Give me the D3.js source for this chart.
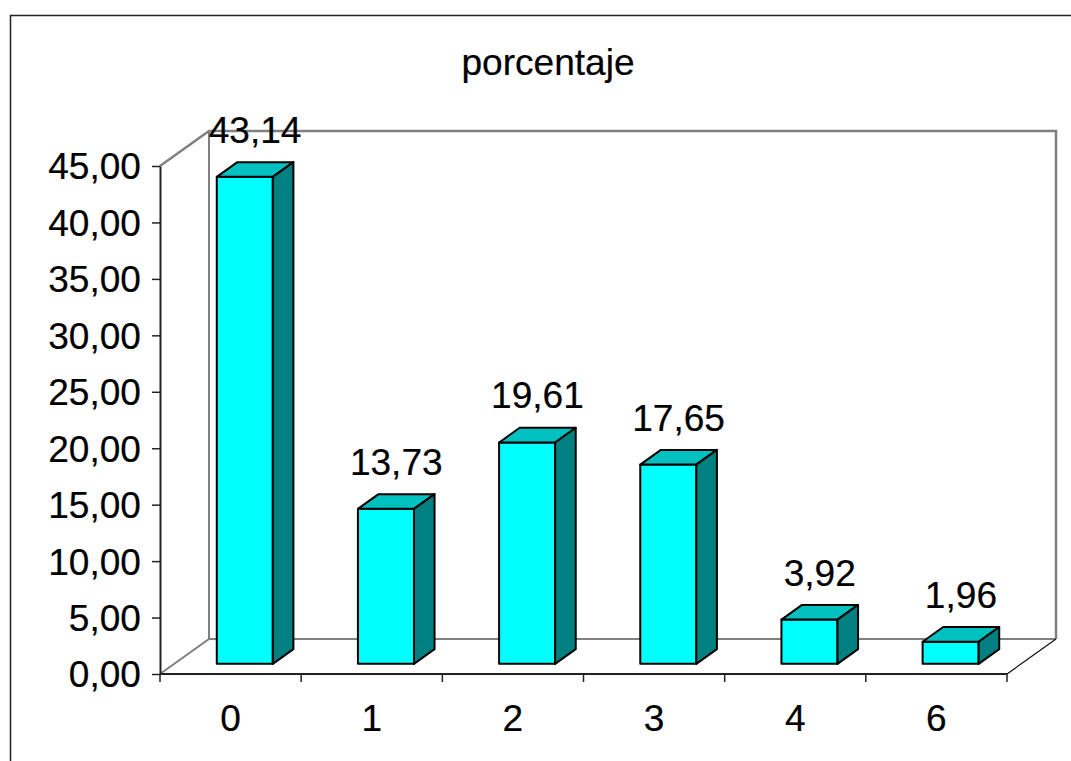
<!DOCTYPE html>
<html>
<head>
<meta charset="utf-8">
<script src="https://cdn.jsdelivr.net/npm/d3@7"></script>
<style>
  html, body { margin: 0; padding: 0; background: #fff; }
  svg { display: block; }
  text { font-family: "Liberation Sans", Arial, sans-serif; fill: #000; stroke: #000; stroke-width: 0.2px; }
</style>
</head>
<body>
<svg id="chart" width="1071" height="761"></svg>
<script>
// Data
const categories = ["0", "1", "2", "3", "4", "6"];
const values = [43.14, 13.73, 19.61, 17.65, 3.92, 1.96];
const yTicks = [0, 5, 10, 15, 20, 25, 30, 35, 40, 45];
const title = "porcentaje";

// Layout
const W = 1071, H = 761;
const plot = { left: 160, right: 1007, bottom: 674, top: 166 };
const depth = { dx: 49, dy: -35 };          // floor / wall depth offset
const barFront = 0.29, barBack = 0.71;       // bar position within the depth
const fontSize = 36, stretch = 1.03;

const locale = d3.formatLocale({ decimal: ",", thousands: ".", grouping: [3], currency: ["", "€"] });
const fmt = locale.format(".2f");

const svg = d3.select("#chart");

// Outer frame
svg.append("rect")
  .attr("x", 10.5).attr("y", 15.5)
  .attr("width", 1200).attr("height", 900)
  .attr("fill", "none").attr("stroke", "#222").attr("stroke-width", 1.5);

// Scales
const x = d3.scaleBand()
  .domain(categories)
  .range([plot.left, plot.right])
  .paddingInner(0.603)
  .paddingOuter(0.603 / 2);
const y = d3.scaleLinear().domain([0, 45]).range([plot.bottom, plot.top]);

// Title
svg.append("text")
  .attr("transform", `translate(548,75) scale(${stretch},1)`)
  .attr("text-anchor", "middle")
  .attr("font-size", fontSize)
  .text(title);

// Back wall and floor outline
const gray = "#808080";
const bx0 = plot.left + depth.dx, bx1 = plot.right + depth.dx;
const byTop = y(45) + depth.dy, byBot = plot.bottom + depth.dy;
const walls = svg.append("g").attr("fill", "none").attr("stroke", gray).attr("stroke-width", 2);
walls.append("polyline")
  .attr("points", [[plot.left, y(45)], [bx0, byTop], [bx1, byTop], [bx1, byBot]].join(" "))
  .attr("stroke-width", 2.5);
walls.append("line").attr("x1", bx0).attr("y1", byTop).attr("x2", bx0).attr("y2", byBot);
walls.append("polyline")
  .attr("points", [[plot.left, plot.bottom], [bx0, byBot], [bx1, byBot]].join(" "));
svg.append("line")
  .attr("x1", plot.right).attr("y1", plot.bottom).attr("x2", bx1).attr("y2", byBot)
  .attr("stroke", "#111").attr("stroke-width", 1.2);

// Value axis
const yAxis = d3.axisLeft(y)
  .tickValues(yTicks)
  .tickFormat(fmt)
  .tickSizeInner(8)
  .tickSizeOuter(0)
  .tickPadding(10.5);
const yG = svg.append("g").attr("transform", `translate(${plot.left},0)`).call(yAxis);
yG.select(".domain").attr("stroke", "#222").attr("stroke-width", 2);
yG.selectAll(".tick line").attr("stroke", "#222").attr("stroke-width", 1.5);
yG.selectAll(".tick text")
  .attr("font-size", fontSize)
  .attr("font-family", "Liberation Sans, Arial, sans-serif")
  .attr("fill", "#000")
  .attr("dy", "0.36em")
  .attr("transform", `scale(${stretch},1)`);

// Category axis
const xG = svg.append("g");
xG.append("line")
  .attr("x1", plot.left).attr("y1", plot.bottom)
  .attr("x2", plot.right).attr("y2", plot.bottom)
  .attr("stroke", "#222").attr("stroke-width", 2);
const bounds = d3.range(categories.length + 1).map(i => plot.left + i * x.step());
xG.selectAll("line.tick").data(bounds).join("line")
  .attr("class", "tick")
  .attr("x1", d => d).attr("x2", d => d)
  .attr("y1", plot.bottom).attr("y2", plot.bottom + 8)
  .attr("stroke", "#222").attr("stroke-width", 1.5);
xG.selectAll("text").data(categories).join("text")
  .attr("transform", d => `translate(${x(d) + x.bandwidth() / 2},731) scale(${stretch},1)`)
  .attr("text-anchor", "middle")
  .attr("font-size", fontSize)
  .text(d => d);

// 3D bars
const f = { dx: depth.dx * barFront, dy: depth.dy * barFront };
const b = { dx: depth.dx * (barBack - barFront), dy: depth.dy * (barBack - barFront) };
const data = categories.map((c, i) => ({ c, v: values[i] }));

const bars = svg.append("g")
  .attr("stroke", "#000").attr("stroke-width", 2).attr("stroke-linejoin", "round")
  .selectAll("g").data(data).join("g");

bars.each(function (d) {
  const g = d3.select(this);
  const x0 = x(d.c) + f.dx, x1 = x0 + x.bandwidth();
  const yt = y(d.v) + f.dy, yb = y(0) + f.dy;
  g.append("rect")
    .attr("x", x0).attr("y", yt)
    .attr("width", x1 - x0).attr("height", yb - yt)
    .attr("fill", "#00FFFF");
  g.append("polygon")
    .attr("points", [[x0, yt], [x0 + b.dx, yt + b.dy], [x1 + b.dx, yt + b.dy], [x1, yt]].join(" "))
    .attr("fill", "#00C0C0");
  g.append("polygon")
    .attr("points", [[x1, yt], [x1 + b.dx, yt + b.dy], [x1 + b.dx, yb + b.dy], [x1, yb]].join(" "))
    .attr("fill", "#008080");
});

// Value labels
svg.append("g").selectAll("text").data(data).join("text")
  .attr("transform", d =>
    `translate(${x(d.c) + f.dx + x.bandwidth() / 2 + b.dx / 2},${y(d.v) + f.dy - 34}) scale(${stretch},1)`)
  .attr("text-anchor", "middle")
  .attr("font-size", fontSize)
  .text(d => fmt(d.v));
</script>
</body>
</html>
